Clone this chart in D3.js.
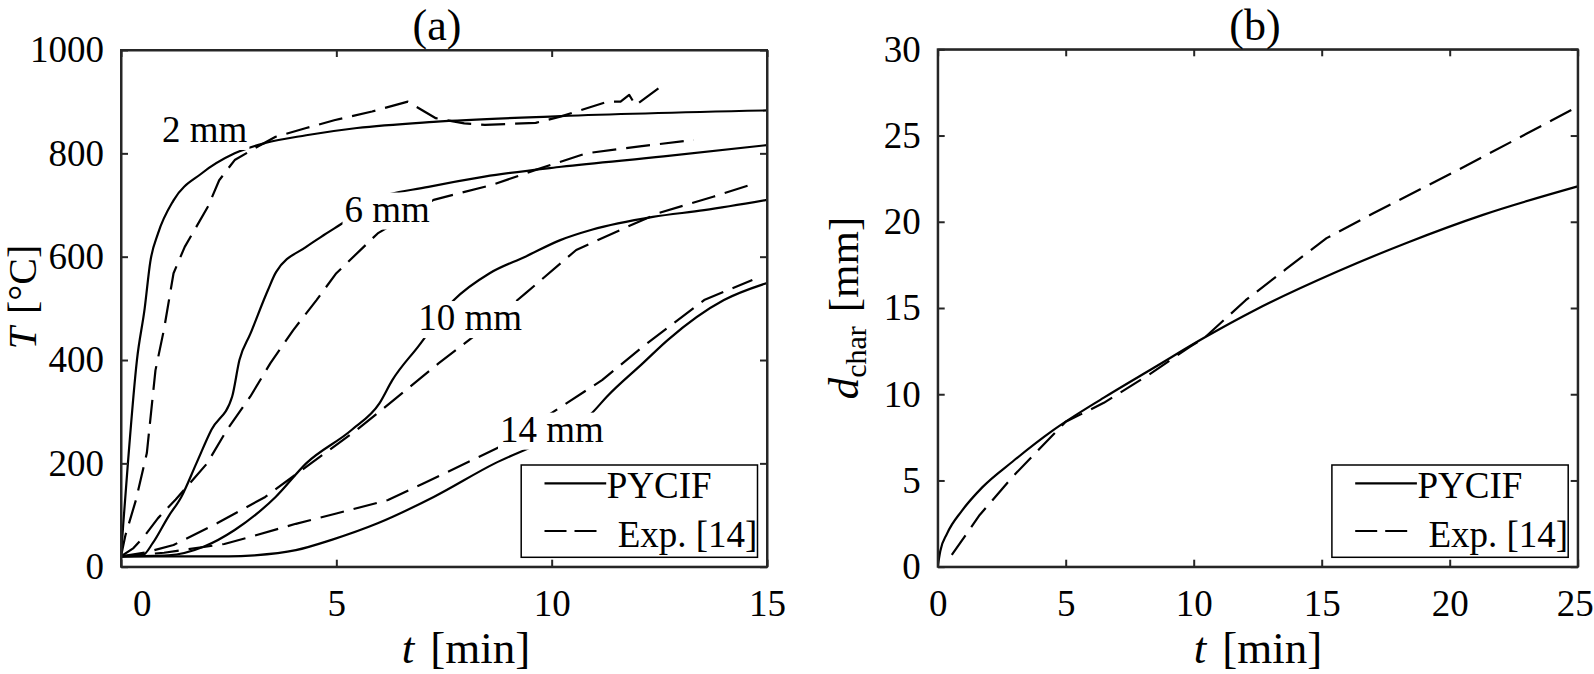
<!doctype html>
<html>
<head>
<meta charset="utf-8">
<script src="https://d3js.org/d3.v7.min.js"></script>
<style>
    body { margin: 0; background: #fff; }
    svg text { font-family: "Liberation Serif", "Times New Roman", serif; fill: #000; }
</style>
</head>
<body>
<script>

// (a) temperature history at several depths, t [min], T [degC]
var t2Sim = [0, 0.05, 0.16, 0.37, 0.55, 0.68, 0.86, 1.22, 1.87, 2.64, 3.35, 4.3, 5.48, 7.26, 10.2, 15];
var T2Sim = [20, 80, 200, 400, 500, 590, 645, 709, 761, 800, 820, 835, 849, 861, 872, 883];
var t2Exp = [0, 0.1, 0.35, 0.6, 0.8, 1.0, 1.22, 1.48, 2.02, 2.28, 2.64, 3.11, 3.59, 4.3, 4.95, 5.83, 6.66, 7.31, 7.97, 8.45, 9.63, 10.2, 11.3, 11.6, 11.8, 11.95, 12.55];
var T2Exp = [20, 60, 130, 220, 380, 460, 568, 619, 697, 748, 787, 810, 832, 849, 864, 881, 900, 868, 858, 855, 859, 871, 900, 900, 913, 893, 930];

var t6Sim = [0, 0.5, 0.74, 1.1, 1.4, 1.75, 2.1, 2.58, 2.75, 3.0, 3.41, 3.6, 4.3, 4.77, 5.25, 5.84, 7.14, 8.44, 10.22, 12.6, 15];
var T6Sim = [20, 22, 46, 97, 135, 200, 265, 329, 400, 450, 535, 570, 619, 645, 671, 710, 735, 755, 774, 794, 816];
var t6Exp = [0, 0.29, 0.56, 0.86, 1.27, 2.0, 2.46, 3.0, 3.47, 4.0, 4.54, 5.0, 5.96, 7.26, 8.62, 9.63, 10.8, 12.0, 13.3];
var T6Exp = [20, 36, 61, 94, 130, 200, 265, 329, 394, 458, 516, 568, 645, 710, 739, 768, 800, 813, 826];

var t10Sim = [0, 1.1, 1.93, 2.64, 3.59, 4.3, 5.36, 6.0, 6.3, 6.9, 7.73, 8.56, 9.39, 10.2, 10.93, 12.35, 13.54, 15];
var T10Sim = [20, 22, 39, 71, 135, 200, 265, 316, 361, 426, 516, 568, 600, 632, 652, 677, 690, 710];
var t10Exp = [0, 0.6, 1.22, 2.23, 3.35, 4.41, 5.48, 6.43, 7.38, 8.38, 9.39, 10.57, 11.76, 12.47, 13.75, 14.73];
var T10Exp = [20, 28, 42, 84, 135, 200, 265, 329, 394, 458, 529, 613, 658, 684, 716, 742];

var t14Sim = [0, 2.5, 3.1, 4.06, 4.89, 5.96, 7.26, 8.68, 9.87, 10.93, 11.28, 12.12, 12.7, 14.0, 15];
var T14Sim = [20, 20, 22, 32, 52, 84, 135, 200, 245, 297, 329, 394, 439, 516, 549];
var t14Exp = [0, 1.0, 2.4, 3.1, 4.06, 5.0, 6.2, 7.02, 8.8, 10.1, 11.17, 12.12, 13.54, 14.66];
var T14Exp = [20, 27, 44, 60, 83, 103, 129, 161, 232, 303, 361, 426, 516, 555];

var depthNames = ["2 mm", "6 mm", "10 mm", "14 mm"];
var depthLabelT = [0.95, 5.19, 6.9, 8.8];      // where each name sits (t)
var depthLabelV = [822, 668, 458, 242];        // (T)

// (b) char depth, t [min], d [mm]
var tSim = [0, 0.1, 0.36, 0.95, 1.74, 2.93, 4.5, 6.49, 8.46, 10.44, 12.42, 15.59, 18.36, 21.3, 25];
var dSim = [0, 0.9, 1.9, 3.25, 4.6, 6.1, 7.9, 9.8, 11.55, 13.3, 14.9, 17.1, 18.8, 20.4, 22.05];
var tExp = [0.55, 1.64, 2.93, 4.31, 5.0, 6.49, 8.27, 9.85, 10.44, 12.03, 13.6, 15.19, 16.96, 20.32, 24.78, 25];
var dExp = [0.68, 3.0, 5.22, 7.35, 8.4, 9.5, 11.15, 12.75, 13.3, 15.45, 17.25, 19.05, 20.45, 23.0, 26.5, 26.65];

var xTicksA = [0, 5, 10, 15], yTicksA = [0, 200, 400, 600, 800, 1000];
var xTicksB = [0, 5, 10, 15, 20, 25], yTicksB = [0, 5, 10, 15, 20, 25, 30];
var legendNames = ["PYCIF", "Exp. [14]"];

var axisColor = "#262626", dash = "24,10";

var svg = d3.select("body").append("svg")
    .attr("width", 1594)
    .attr("height", 674);

function zip(ts, vs) {
    return ts.map(function (t, i) { return [t, vs[i]]; });
}

function panel(o) {
    var x = d3.scaleLinear().domain(o.xDomain).range([o.left, o.right]);
    var y = d3.scaleLinear().domain(o.yDomain).range([o.bottom, o.top]);
    var g = svg.append("g");
    var id = "clip" + o.name;

    g.append("clipPath").attr("id", id).append("rect")
        .attr("x", o.left).attr("y", o.top)
        .attr("width", o.right - o.left).attr("height", o.bottom - o.top);

    var curves = g.append("g").attr("clip-path", "url(#" + id + ")");
    o.curves.forEach(function (c) {
        // model curves smooth, measured ones straight between readings
        var line = d3.line()
            .x(function (d) { return x(d[0]); })
            .y(function (d) { return y(d[1]); })
            .curve(c.dashed ? d3.curveLinear : d3.curveMonotoneX);
        curves.append("path")
            .attr("d", line(c.data))
            .attr("fill", "none")
            .attr("stroke", "#000")
            .attr("stroke-width", 2.2)
            .attr("stroke-linejoin", "round")
            .attr("stroke-dasharray", c.dashed ? dash : null);
    });

    // axes, ticks pointing in, mirrored on top and right
    function style(sel) {
        sel.attr("font-size", 37).attr("color", axisColor);
        sel.selectAll("path, line").attr("stroke-width", 2);
        sel.selectAll("text").attr("fill", "#111");
    }
    var fmt = d3.format("d");
    var bottom = g.append("g").attr("transform", "translate(0," + o.bottom + ")")
        .call(d3.axisBottom(x).tickValues(o.xTicks).tickFormat(fmt).tickSize(-7).tickSizeOuter(0).tickPadding(23.5))
        .call(style);
    g.append("g").attr("transform", "translate(0," + o.top + ")")
        .call(d3.axisTop(x).tickValues(o.xTicks).tickSize(-7).tickSizeOuter(0).tickFormat(""))
        .call(style);
    g.append("g").attr("transform", "translate(" + o.left + ",0)")
        .call(d3.axisLeft(y).tickValues(o.yTicks).tickFormat(fmt).tickSize(-7).tickSizeOuter(0).tickPadding(17))
        .call(style);
    g.append("g").attr("transform", "translate(" + o.right + ",0)")
        .call(d3.axisRight(y).tickValues(o.yTicks).tickSize(-7).tickSizeOuter(0).tickFormat(""))
        .call(style);
    if (o.zeroShift) {
        bottom.selectAll(".tick text").filter(function (d) { return d === 0; })
            .attr("dx", o.zeroShift);
    }
    if (o.lastShift) {
        var last = o.xTicks[o.xTicks.length - 1];
        bottom.selectAll(".tick text").filter(function (d) { return d === last; })
            .attr("dx", o.lastShift);
    }

    g.append("rect")
        .attr("x", o.left).attr("y", o.top)
        .attr("width", o.right - o.left).attr("height", o.bottom - o.top)
        .attr("fill", "none").attr("stroke", axisColor).attr("stroke-width", 2);

    // title
    g.append("text")
        .attr("x", o.titleX).attr("y", 39.5)
        .attr("text-anchor", "middle")
        .attr("font-size", 44)
        .text(o.title);

    // x label
    var xl = g.append("text")
        .attr("x", o.xLabelX).attr("y", 663)
        .attr("text-anchor", "middle")
        .attr("font-size", 45);
    xl.append("tspan").attr("font-style", "italic").text("t");
    xl.append("tspan").attr("dx", 16).text("[min]");

    // legend
    var lw = 236.3, lh = 92.3;
    var lg = g.append("g")
        .attr("transform", "translate(" + (o.right - 9.5 - lw) + "," + (o.bottom - 9.4 - lh) + ")");
    lg.append("rect").attr("width", lw).attr("height", lh)
        .attr("fill", "#fff").attr("stroke", "#000").attr("stroke-width", 1.5);
    lg.append("line").attr("x1", 23.3).attr("x2", 85).attr("y1", 18.3).attr("y2", 18.3)
        .attr("stroke", "#000").attr("stroke-width", 2.2);
    lg.append("line").attr("x1", 23.3).attr("x2", 79).attr("y1", 66).attr("y2", 66)
        .attr("stroke", "#000").attr("stroke-width", 2.2).attr("stroke-dasharray", "22,8");
    lg.append("text").attr("x", 85.5).attr("y", 33).attr("font-size", 37).text(legendNames[0]);
    lg.append("text").attr("x", 96.5).attr("y", 81.7).attr("font-size", 37).text(legendNames[1]);

    return { g: g, x: x, y: y };
}

var a = panel({
    name: "a", title: "(a)", titleX: 437, xLabelX: 466,
    left: 121, right: 767, top: 50, bottom: 566.7,
    xDomain: [0, 15], yDomain: [0, 1000],
    xTicks: xTicksA, yTicks: yTicksA, zeroShift: 20.7,
    curves: [
        { data: zip(t2Sim, T2Sim) }, { data: zip(t2Exp, T2Exp), dashed: true },
        { data: zip(t6Sim, T6Sim) }, { data: zip(t6Exp, T6Exp), dashed: true },
        { data: zip(t10Sim, T10Sim) }, { data: zip(t10Exp, T10Exp), dashed: true },
        { data: zip(t14Sim, T14Sim) }, { data: zip(t14Exp, T14Exp), dashed: true }
    ]
});

var b = panel({
    name: "b", title: "(b)", titleX: 1255, xLabelX: 1258,
    left: 937.7, right: 1577.7, top: 49.3, bottom: 566.7,
    xDomain: [0, 25], yDomain: [0, 30],
    xTicks: xTicksB, yTicks: yTicksB, lastShift: -3,
    curves: [
        { data: zip(tSim, dSim) }, { data: zip(tExp, dExp), dashed: true }
    ]
});

// depth names with white boxes behind them
depthNames.forEach(function (name, i) {
    var lab = a.g.append("g");
    var txt = lab.append("text")
        .attr("x", a.x(depthLabelT[i])).attr("y", a.y(depthLabelV[i]))
        .attr("font-size", 37)
        .text(name);
    var bb = txt.node().getBBox();
    lab.insert("rect", "text")
        .attr("x", bb.x - 2).attr("y", bb.y + 4)
        .attr("width", bb.width + 4).attr("height", bb.height - 4)
        .attr("fill", "#fff");
});

// y labels
var yl = svg.append("text")
    .attr("transform", "translate(36,297) rotate(-90)")
    .attr("text-anchor", "middle")
    .attr("font-size", 40);
yl.append("tspan").attr("font-style", "italic").text("T");
yl.append("tspan").attr("dx", 13).text("[°C]");

var yr = svg.append("text")
    .attr("transform", "translate(858,308) rotate(-90)")
    .attr("text-anchor", "middle")
    .attr("font-size", 43);
yr.append("tspan").attr("font-style", "italic").text("d");
yr.append("tspan").attr("font-size", 30).attr("dy", 8).text("char");
yr.append("tspan").attr("dx", 14).attr("dy", -8).text("[mm]");

</script>
</body>
</html>
